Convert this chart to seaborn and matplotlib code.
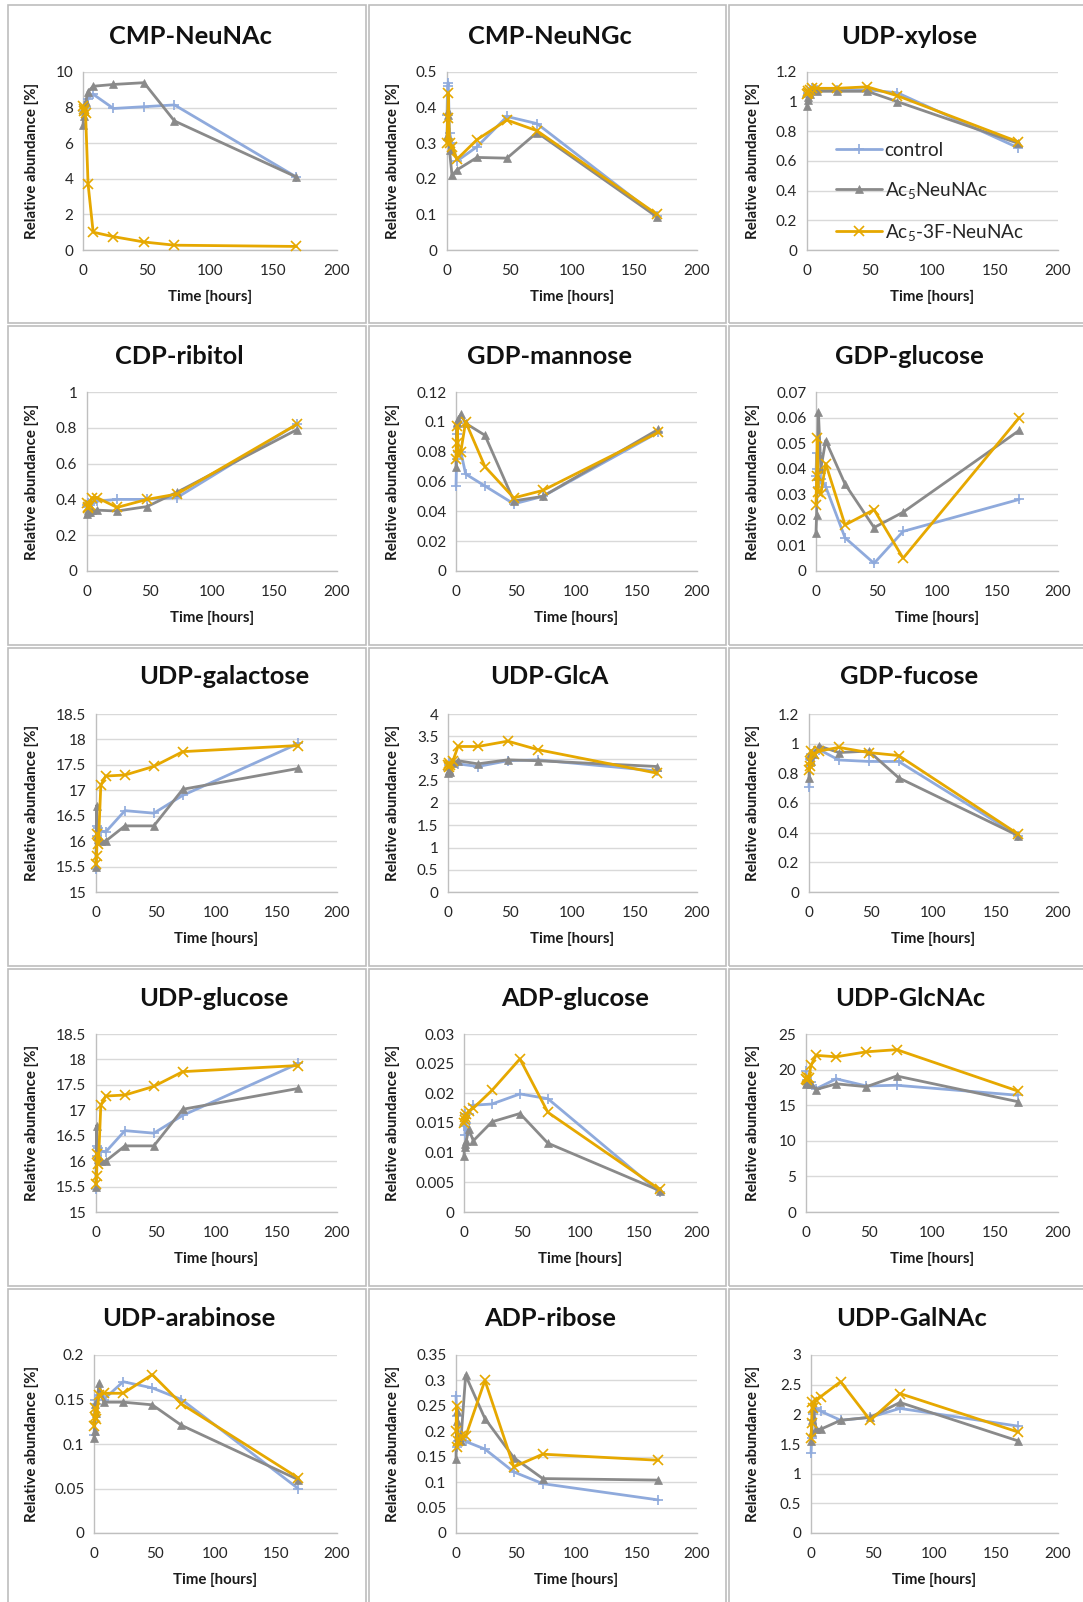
import numpy as np
import pandas as pd
import matplotlib
matplotlib.use("Agg")
import matplotlib.pyplot as plt
from matplotlib.patches import Rectangle
from matplotlib.ticker import MultipleLocator, FuncFormatter
import seaborn as sns

# ---------------------------------------------------------------- data
hours = [0, 0.5, 1, 2, 4, 8, 24, 48, 72, 168]
series_names = ["control", "Ac$_5$NeuNAc", "Ac$_5$-3F-NeuNAc"]

cmp_neunac_ctrl = [7.8, 8.1, 7.6, 8.0, 8.5, 8.75, 7.95, 8.05, 8.15, 4.1]
cmp_neunac_ac5 = [7.0, 7.5, 8.0, 8.3, 8.9, 9.2, 9.3, 9.4, 7.25, 4.1]
cmp_neunac_3f = [8.1, 7.8, 7.9, 7.7, 3.7, 1.0, 0.75, 0.45, 0.27, 0.2]

cmp_neungc_ctrl = [0.38, 0.46, 0.47, 0.33, 0.30, 0.25, 0.29, 0.375, 0.355, 0.095]
cmp_neungc_ac5 = [0.32, 0.39, 0.38, 0.28, 0.21, 0.225, 0.26, 0.258, 0.33, 0.093]
cmp_neungc_3f = [0.30, 0.37, 0.44, 0.30, 0.29, 0.255, 0.31, 0.365, 0.335, 0.10]

udp_xyl_ctrl = [1.03, 1.06, 1.05, 1.08, 1.09, 1.08, 1.08, 1.08, 1.06, 0.69]
udp_xyl_ac5 = [0.97, 1.01, 1.03, 1.05, 1.08, 1.07, 1.07, 1.07, 1.00, 0.72]
udp_xyl_3f = [1.05, 1.07, 1.06, 1.08, 1.09, 1.09, 1.09, 1.10, 1.04, 0.73]

cdp_rib_ctrl = [0.37, 0.38, 0.36, 0.37, 0.38, 0.39, 0.40, 0.40, 0.41, 0.82]
cdp_rib_ac5 = [0.32, 0.33, 0.34, 0.33, 0.34, 0.34, 0.335, 0.36, 0.44, 0.79]
cdp_rib_3f = [0.38, 0.36, 0.35, 0.37, 0.41, 0.41, 0.355, 0.40, 0.43, 0.82]

gdp_man_ctrl = [0.057, 0.075, 0.092, 0.080, 0.080, 0.065, 0.057, 0.045, 0.050, 0.093]
gdp_man_ac5 = [0.070, 0.099, 0.100, 0.102, 0.105, 0.099, 0.091, 0.047, 0.050, 0.095]
gdp_man_3f = [0.075, 0.086, 0.097, 0.078, 0.080, 0.100, 0.070, 0.049, 0.054, 0.093]

gdp_glc_ctrl = [0.037, 0.046, 0.040, 0.033, 0.036, 0.033, 0.013, 0.003, 0.0155, 0.028]
gdp_glc_ac5 = [0.015, 0.022, 0.037, 0.062, 0.040, 0.051, 0.034, 0.017, 0.023, 0.055]
gdp_glc_3f = [0.026, 0.037, 0.052, 0.031, 0.030, 0.042, 0.018, 0.024, 0.005, 0.060]

udp_gal_ctrl = [15.45, 16.30, 16.10, 16.25, 16.20, 16.18, 16.60, 16.55, 16.90, 17.92]
udp_gal_ac5 = [15.50, 16.70, 16.10, 16.05, 16.00, 16.00, 16.30, 16.30, 17.02, 17.43]
udp_gal_3f = [15.55, 15.70, 16.15, 15.95, 17.10, 17.28, 17.30, 17.47, 17.76, 17.88]

udp_glca_ctrl = [2.75, 2.85, 2.90, 2.90, 2.90, 2.88, 2.82, 2.95, 2.97, 2.72]
udp_glca_ac5 = [2.68, 2.72, 2.75, 2.70, 2.90, 2.95, 2.88, 2.97, 2.95, 2.82]
udp_glca_3f = [2.85, 2.90, 2.80, 2.85, 2.95, 3.27, 3.27, 3.39, 3.20, 2.67]

gdp_fuc_ctrl = [0.71, 0.85, 0.90, 0.93, 0.95, 0.96, 0.89, 0.88, 0.88, 0.38]
gdp_fuc_ac5 = [0.77, 0.92, 0.93, 0.88, 0.93, 0.985, 0.94, 0.95, 0.77, 0.38]
gdp_fuc_3f = [0.82, 0.85, 0.88, 0.95, 0.93, 0.95, 0.975, 0.94, 0.92, 0.39]

udp_glc_ctrl = [15.45, 16.30, 16.10, 16.25, 16.20, 16.18, 16.60, 16.55, 16.90, 17.92]
udp_glc_ac5 = [15.50, 16.70, 16.10, 16.05, 16.00, 16.00, 16.30, 16.30, 17.02, 17.43]
udp_glc_3f = [15.55, 15.70, 16.15, 15.95, 17.10, 17.28, 17.30, 17.47, 17.76, 17.88]

adp_glc_ctrl = [0.0145, 0.0165, 0.0130, 0.0150, 0.0165, 0.0180, 0.0182, 0.0199, 0.0191, 0.0033]
adp_glc_ac5 = [0.0095, 0.0115, 0.0110, 0.0120, 0.0140, 0.0120, 0.0152, 0.0166, 0.0116, 0.0036]
adp_glc_3f = [0.0150, 0.0155, 0.0160, 0.0165, 0.0170, 0.0175, 0.0205, 0.0258, 0.0168, 0.0038]

udp_glcnac_ctrl = [19.8, 18.5, 18.0, 18.3, 18.2, 17.3, 18.7, 17.7, 17.8, 16.4]
udp_glcnac_ac5 = [18.0, 18.3, 18.6, 18.1, 18.0, 17.2, 18.0, 17.6, 19.1, 15.5]
udp_glcnac_3f = [18.7, 19.0, 18.5, 18.8, 20.6, 22.0, 21.8, 22.5, 22.8, 17.0]

udp_ara_ctrl = [0.110, 0.125, 0.150, 0.145, 0.155, 0.150, 0.170, 0.163, 0.150, 0.050]
udp_ara_ac5 = [0.107, 0.115, 0.145, 0.135, 0.168, 0.147, 0.147, 0.144, 0.121, 0.060]
udp_ara_3f = [0.120, 0.130, 0.140, 0.128, 0.155, 0.157, 0.157, 0.178, 0.145, 0.062]

adp_rib_ctrl = [0.270, 0.230, 0.170, 0.180, 0.190, 0.180, 0.165, 0.120, 0.097, 0.065]
adp_rib_ac5 = [0.145, 0.220, 0.240, 0.190, 0.180, 0.310, 0.225, 0.148, 0.107, 0.104]
adp_rib_3f = [0.200, 0.250, 0.170, 0.180, 0.190, 0.190, 0.300, 0.130, 0.155, 0.143]

udp_galnac_ctrl = [1.35, 1.60, 1.90, 2.00, 2.10, 2.05, 1.90, 1.95, 2.10, 1.80]
udp_galnac_ac5 = [1.55, 1.70, 1.90, 2.10, 1.75, 1.75, 1.90, 1.95, 2.20, 1.55]
udp_galnac_3f = [1.60, 1.85, 2.20, 2.10, 2.25, 2.30, 2.55, 1.90, 2.35, 1.70]

titles = ["CMP-NeuNAc", "CMP-NeuNGc", "UDP-xylose",
          "CDP-ribitol", "GDP-mannose", "GDP-glucose",
          "UDP-galactose", "UDP-GlcA", "GDP-fucose",
          "UDP-glucose", "ADP-glucose", "UDP-GlcNAc",
          "UDP-arabinose", "ADP-ribose", "UDP-GalNAc"]
y_min = [0, 0, 0, 0, 0, 0, 15, 0, 0, 15, 0, 0, 0, 0, 0]
y_max = [10, 0.5, 1.2, 1, 0.12, 0.07, 18.5, 4, 1.2, 18.5, 0.03, 25, 0.2, 0.35, 3]
y_step = [2, 0.1, 0.2, 0.2, 0.02, 0.01, 0.5, 0.5, 0.2, 0.5, 0.005, 5, 0.05, 0.05, 0.5]

series_values = [
    (cmp_neunac_ctrl, cmp_neunac_ac5, cmp_neunac_3f),
    (cmp_neungc_ctrl, cmp_neungc_ac5, cmp_neungc_3f),
    (udp_xyl_ctrl, udp_xyl_ac5, udp_xyl_3f),
    (cdp_rib_ctrl, cdp_rib_ac5, cdp_rib_3f),
    (gdp_man_ctrl, gdp_man_ac5, gdp_man_3f),
    (gdp_glc_ctrl, gdp_glc_ac5, gdp_glc_3f),
    (udp_gal_ctrl, udp_gal_ac5, udp_gal_3f),
    (udp_glca_ctrl, udp_glca_ac5, udp_glca_3f),
    (gdp_fuc_ctrl, gdp_fuc_ac5, gdp_fuc_3f),
    (udp_glc_ctrl, udp_glc_ac5, udp_glc_3f),
    (adp_glc_ctrl, adp_glc_ac5, adp_glc_3f),
    (udp_glcnac_ctrl, udp_glcnac_ac5, udp_glcnac_3f),
    (udp_ara_ctrl, udp_ara_ac5, udp_ara_3f),
    (adp_rib_ctrl, adp_rib_ac5, adp_rib_3f),
    (udp_galnac_ctrl, udp_galnac_ac5, udp_galnac_3f),
]

# ---------------------------------------------------------------- style
sns.set_style("white")
FONT = ["Lato", "DejaVu Sans"]
plt.rcParams["font.family"] = FONT
plt.rcParams["mathtext.fontset"] = "custom"
plt.rcParams["mathtext.rm"] = "Lato"
plt.rcParams["mathtext.it"] = "Lato:italic"
plt.rcParams["mathtext.bf"] = "Lato:bold"

colors = ["#8FAADC", "#8A8A8A", "#E6A800"]
markers = ["+", "^", "x"]
marker_sizes = [7, 6, 7]

W, H = 1083, 1602
fig = plt.figure(figsize=(W / 100, H / 100), dpi=100)
fig.patch.set_facecolor("white")

# grid of chart cells (pixel coordinates)
col_bounds = [(8, 366), (369, 726), (729, 1092)]
row_bounds = [(5, 323), (326, 645), (648, 966), (969, 1286), (1289, 1612)]
row_axes = [(72, 250), (392, 571), (714, 892), (1034, 1212), (1355, 1533)]
col_right = [337, 697, 1058]
ax_left = [83, 447, 807, 87, 456, 816, 96, 448, 809, 96, 464, 806, 94, 456, 811]
title_x = [190, 550, 909, 179, 549, 909, 224, 549, 909, 214, 575, 910, 189, 550, 911]
title_y = [36, 357, 677, 998, 1319]
ylabel_x = [39, 400, 760]

for r0, r1 in row_bounds:
    for c0, c1 in col_bounds:
        fig.add_artist(Rectangle((c0 / W, 1 - r1 / H), (c1 - c0) / W, (r1 - r0) / H,
                                 transform=fig.transFigure, fill=False,
                                 ec="#BDBDBD", lw=1.2))


def fmt(v, pos):
    return f"{round(v, 6):g}"


for i, title in enumerate(titles):
    row, col = divmod(i, 3)
    top, bot = row_axes[row]
    left, right = ax_left[i], col_right[col]
    ax = fig.add_axes([left / W, 1 - bot / H, (right - left) / W, (bot - top) / H])

    for k in range(3):
        sns.lineplot(x=hours, y=series_values[i][k], ax=ax, color=colors[k],
                     marker=markers[k], markersize=marker_sizes[k],
                     markeredgewidth=1.2 if k != 1 else 0.5,
                     markeredgecolor=colors[k], linewidth=2.0,
                     errorbar=None, label=series_names[k], clip_on=False,
                     zorder=3 + k)

    ax.set_xlim(0, 200)
    ax.set_ylim(y_min[i], y_max[i])
    ax.xaxis.set_major_locator(MultipleLocator(50))
    ax.yaxis.set_major_locator(MultipleLocator(y_step[i]))
    ax.yaxis.set_major_formatter(FuncFormatter(fmt))
    ax.xaxis.set_major_formatter(FuncFormatter(fmt))
    ax.grid(axis="y", color="#D9D9D9", lw=1.0, zorder=0)
    ax.grid(axis="x", visible=False)
    ax.set_axisbelow(True)
    for s in ["top", "right"]:
        ax.spines[s].set_visible(False)
    for s in ["left", "bottom"]:
        ax.spines[s].set_color("#BFBFBF")
        ax.spines[s].set_linewidth(1.0)
    ax.tick_params(axis="both", length=0, labelsize=11, colors="#262626")
    ax.tick_params(axis="x", pad=10)
    ax.tick_params(axis="y", pad=7)

    h_ax = bot - top
    w_ax = right - left
    ax.set_xlabel("Time [hours]", fontsize=10.8, fontweight="bold", color="#1a1a1a")
    ax.xaxis.set_label_coords(0.5, -40 / h_ax)
    ax.set_ylabel("Relative abundance [%]", fontsize=10.8, fontweight="bold", color="#1a1a1a")
    ax.yaxis.set_label_coords((ylabel_x[col] - left) / w_ax, 0.5)

    fig.text(title_x[i] / W, 1 - title_y[row] / H, title, ha="center", va="center",
             fontsize=18.3, fontweight="bold", color="#111111")

    if title == "UDP-xylose":
        ax.legend(loc="upper left", bbox_to_anchor=(836 / W, 1 - 142 / H),
                  bbox_transform=fig.transFigure, frameon=False, fontsize=13.7,
                  handlelength=2.4, handletextpad=0.15, labelspacing=1.1,
                  borderpad=0, borderaxespad=0)
    else:
        leg = ax.get_legend()
        if leg is not None:
            leg.remove()

fig.savefig("out.png", dpi=100, facecolor="white")
